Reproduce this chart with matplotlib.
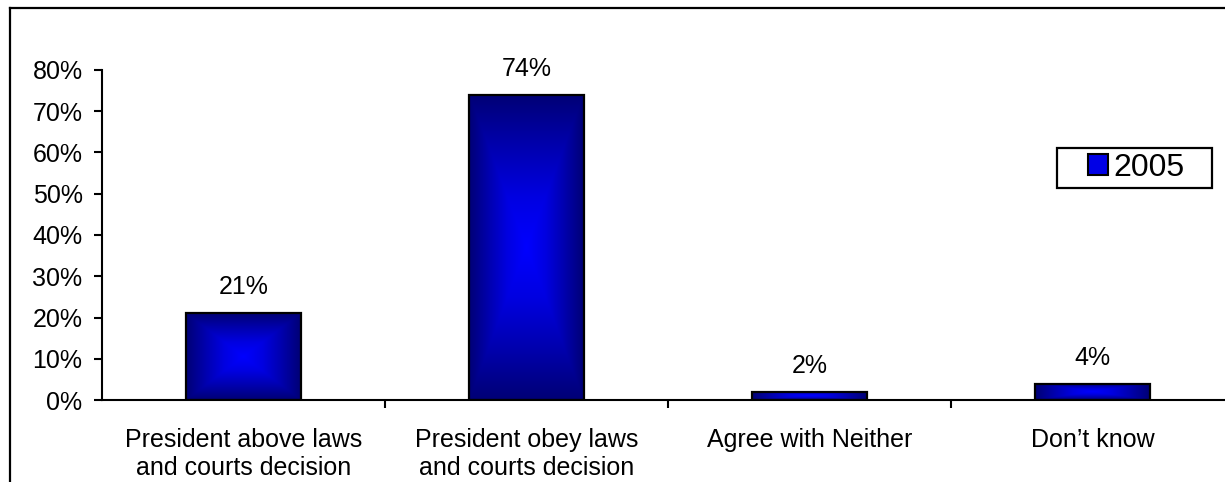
import numpy as np
import matplotlib
matplotlib.use("Agg")
import matplotlib.pyplot as plt
from matplotlib.colors import LinearSegmentedColormap
from matplotlib.patches import Rectangle
from matplotlib.lines import Line2D

categories = ["President above laws\nand courts decision",
              "President obey laws\nand courts decision",
              "Agree with Neither",
              "Don\u2019t know"]
values_2005 = [0.21, 0.74, 0.02, 0.04]
series_name = "2005"
yticks = [0.0, 0.1, 0.2, 0.3, 0.4, 0.5, 0.6, 0.7, 0.8]
ytick_labels = ["0%", "10%", "20%", "30%", "40%", "50%", "60%", "70%", "80%"]

plt.rcParams["font.family"] = ["Liberation Sans", "DejaVu Sans"]

W, H = 1225, 482
fig = plt.figure(figsize=(W / 100, H / 100), dpi=100)
ax = fig.add_axes([102 / W, (H - 400) / H, 1132 / W, 330 / H])

# rectangular gradient: bright blue centre fading to navy at the edges
cmap = LinearSegmentedColormap.from_list(
    "bar", [(0, 0, 1.0), (0, 0, 0.88), (0, 0, 0.68), (0, 0, 0.46)])
n = 240
u = np.linspace(-1, 1, n)
uu, vv = np.meshgrid(u, u)
grad = np.maximum(np.abs(uu), np.abs(vv))

bar_w = 0.405
for i, v in enumerate(values_2005):
    x0 = i - bar_w / 2
    ax.imshow(grad, cmap=cmap, vmin=0, vmax=1, extent=[x0, x0 + bar_w, 0, v],
              aspect="auto", origin="lower", zorder=2, interpolation="bilinear")
    ax.add_patch(Rectangle((x0, 0), bar_w, v, facecolor="none",
                           edgecolor="black", linewidth=1.6, zorder=3))
    ax.annotate(f"{round(v * 100)}%", (i, v), xytext=(0, 10), textcoords="offset points",
                ha="center", va="bottom", fontsize=18)

ax.set_xlim(-0.5, 3.5)
ax.set_ylim(0, 0.8)
ax.set_yticks(yticks)
ax.set_yticklabels(ytick_labels, fontsize=18)
ax.set_xticks(range(len(categories)))
ax.set_xticklabels(categories, fontsize=18, linespacing=1.2)
ax.set_xticks([0.5, 1.5, 2.5], minor=True)
ax.tick_params(axis="x", which="major", length=0, pad=20)
ax.tick_params(axis="x", which="minor", length=6, width=1.5, direction="out")
ax.tick_params(axis="y", length=6, width=1.5, direction="out", pad=8)
for s in ("top", "right"):
    ax.spines[s].set_visible(False)
for s in ("left", "bottom"):
    ax.spines[s].set_linewidth(1.5)

# legend box
fig.add_artist(Rectangle((1057 / W, (H - 188) / H), 155 / W, 40 / H, transform=fig.transFigure,
                         facecolor="white", edgecolor="black", linewidth=1.6, zorder=4))
handle = Rectangle((0, 0), 1, 1, facecolor=(0, 0, 0.9), edgecolor="black", linewidth=1.5)
leg = fig.legend([handle], [series_name], loc="center", bbox_to_anchor=(1136 / W, (H - 168) / H),
                 fontsize=23, frameon=False, handlelength=0.65, handleheight=0.65,
                 handletextpad=0.15, borderpad=0.0, borderaxespad=0)
leg.set_zorder(5)

# outer frame
fig.add_artist(Line2D([10 / W, 10 / W], [0, (H - 8) / H], color="black", linewidth=1.6,
                      transform=fig.transFigure, solid_capstyle="projecting"))
fig.add_artist(Line2D([10 / W, 1], [(H - 8) / H, (H - 8) / H], color="black", linewidth=1.6,
                      transform=fig.transFigure, solid_capstyle="projecting"))

fig.savefig("out.png", dpi=100)
